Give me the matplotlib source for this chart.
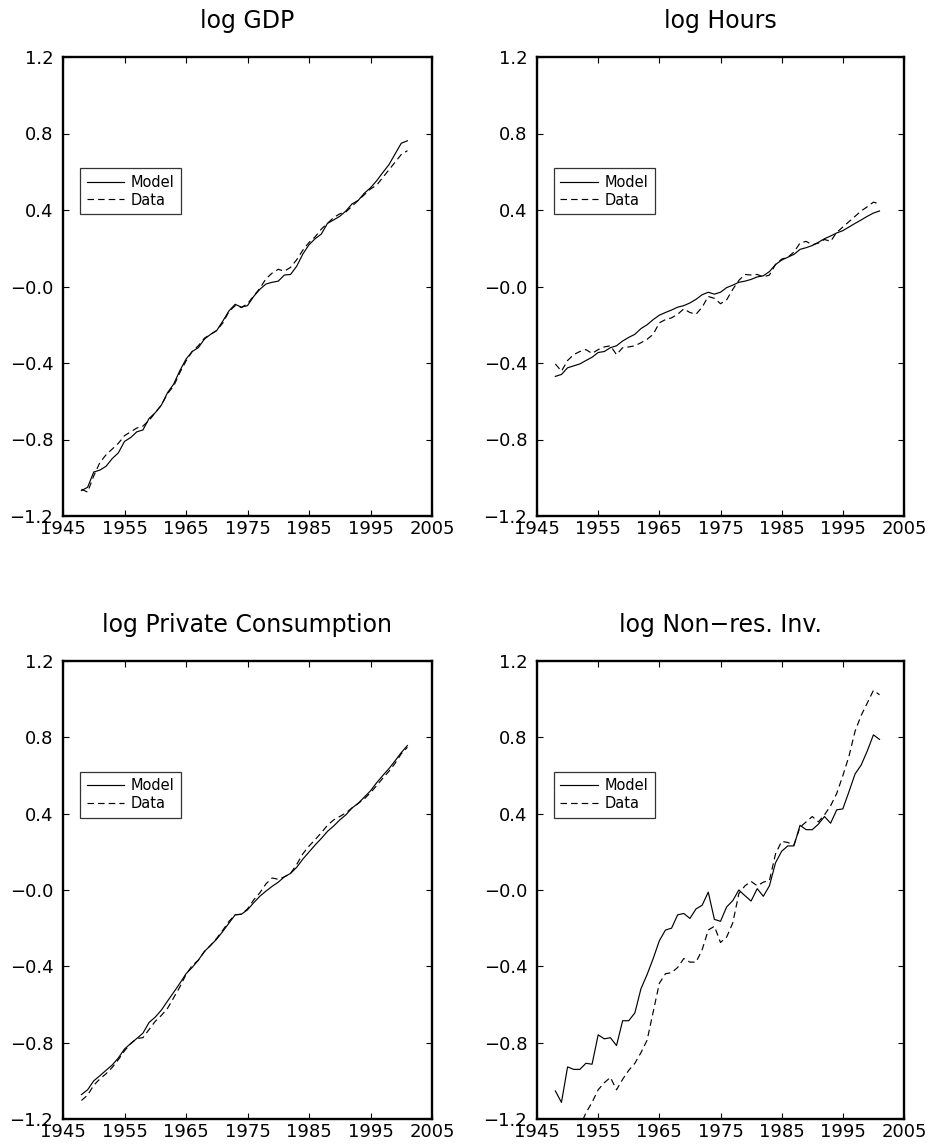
import numpy as np
import matplotlib
matplotlib.use("Agg")
import matplotlib.pyplot as plt

years = np.arange(1948, 2002)

gdp_model = [-1.067, -1.05, -0.97, -0.96, -0.94, -0.90, -0.87, -0.81, -0.79, -0.76,
             -0.75, -0.69, -0.66, -0.62, -0.555, -0.51, -0.44, -0.38, -0.34, -0.32,
             -0.275, -0.25, -0.23, -0.18, -0.127, -0.093, -0.108, -0.10, -0.052, -0.015,
             0.013, 0.022, 0.028, 0.06, 0.063, 0.106, 0.17, 0.218, 0.25, 0.274,
             0.33, 0.348, 0.367, 0.395, 0.432, 0.45, 0.488, 0.516, 0.553, 0.596,
             0.637, 0.693, 0.749, 0.762]
gdp_data = [-1.06, -1.075, -0.99, -0.92, -0.88, -0.85, -0.82, -0.78, -0.76, -0.74,
            -0.73, -0.70, -0.66, -0.62, -0.56, -0.52, -0.45, -0.39, -0.34, -0.31,
            -0.27, -0.25, -0.23, -0.19, -0.13, -0.10, -0.11, -0.09, -0.05, -0.01,
            0.04, 0.07, 0.09, 0.08, 0.10, 0.14, 0.19, 0.23, 0.26, 0.30,
            0.33, 0.36, 0.38, 0.39, 0.42, 0.45, 0.48, 0.51, 0.53, 0.57,
            0.61, 0.65, 0.69, 0.71]

hours_model = [-0.47, -0.46, -0.425, -0.415, -0.405, -0.387, -0.37, -0.345, -0.34, -0.32,
               -0.31, -0.285, -0.266, -0.25, -0.22, -0.2, -0.173, -0.15, -0.136, -0.123,
               -0.108, -0.1, -0.086, -0.067, -0.043, -0.03, -0.04, -0.03, -0.006, 0.007,
               0.022, 0.028, 0.037, 0.05, 0.056, 0.078, 0.115, 0.138, 0.153, 0.168,
               0.194, 0.203, 0.214, 0.231, 0.25, 0.264, 0.28, 0.292, 0.311, 0.33,
               0.348, 0.367, 0.384, 0.395]
hours_data = [-0.405, -0.443, -0.387, -0.356, -0.34, -0.33, -0.35, -0.33, -0.316, -0.31,
              -0.356, -0.32, -0.316, -0.31, -0.294, -0.276, -0.25, -0.19, -0.173, -0.164,
              -0.145, -0.117, -0.136, -0.145, -0.108, -0.052, -0.062, -0.09, -0.07, -0.015,
              0.032, 0.063, 0.06, 0.063, 0.05, 0.06, 0.115, 0.143, 0.153, 0.18,
              0.227, 0.236, 0.218, 0.227, 0.246, 0.236, 0.283, 0.311, 0.339, 0.367,
              0.395, 0.417, 0.441, 0.432]

cons_model = [-1.072, -1.047, -1.0, -0.973, -0.945, -0.917, -0.88, -0.833, -0.805, -0.778,
              -0.75, -0.694, -0.666, -0.629, -0.582, -0.536, -0.489, -0.439, -0.406, -0.368,
              -0.322, -0.29, -0.257, -0.216, -0.173, -0.13, -0.127, -0.104, -0.067, -0.033,
              -0.006, 0.019, 0.041, 0.069, 0.087, 0.119, 0.162, 0.199, 0.236, 0.27,
              0.307, 0.335, 0.367, 0.394, 0.43, 0.454, 0.487, 0.52, 0.562, 0.6,
              0.636, 0.677, 0.72, 0.757]
cons_data = [-1.103, -1.075, -1.023, -0.99, -0.963, -0.93, -0.889, -0.843, -0.805, -0.778,
             -0.774, -0.731, -0.688, -0.657, -0.62, -0.564, -0.508, -0.443, -0.396, -0.368,
             -0.322, -0.29, -0.253, -0.21, -0.164, -0.13, -0.127, -0.099, -0.052, -0.015,
             0.032, 0.063, 0.056, 0.069, 0.087, 0.134, 0.19, 0.23, 0.264, 0.3,
             0.339, 0.367, 0.385, 0.404, 0.43, 0.454, 0.478, 0.51, 0.547, 0.586,
             0.622, 0.664, 0.714, 0.748]

inv_model = [-1.053, -1.113, -0.927, -0.94, -0.94, -0.908, -0.913, -0.759, -0.78, -0.774,
             -0.815, -0.685, -0.685, -0.644, -0.517, -0.443, -0.359, -0.266, -0.21, -0.2,
             -0.13, -0.123, -0.149, -0.099, -0.08, -0.011, -0.154, -0.164, -0.089, -0.056,
             0.0, -0.03, -0.058, 0.007, -0.033, 0.022, 0.143, 0.203, 0.231, 0.231,
             0.339, 0.316, 0.316, 0.345, 0.385, 0.35, 0.42, 0.425, 0.515, 0.608,
             0.655, 0.729, 0.813, 0.789]
inv_data = [-1.45, -1.42, -1.36, -1.30, -1.24, -1.168, -1.113, -1.047, -1.01, -0.982,
            -1.047, -0.992, -0.945, -0.908, -0.852, -0.787, -0.638, -0.489, -0.439, -0.433,
            -0.406, -0.359, -0.378, -0.378, -0.313, -0.21, -0.19, -0.275, -0.247, -0.173,
            -0.019, 0.022, 0.045, 0.022, 0.041, 0.05, 0.19, 0.255, 0.249, 0.236,
            0.329, 0.357, 0.385, 0.357, 0.394, 0.441, 0.506, 0.599, 0.701, 0.832,
            0.915, 0.98, 1.046, 1.023]

titles = ["log GDP", "log Hours", "log Private Consumption", "log Non\u2212res. Inv."]
series = [(gdp_model, gdp_data), (hours_model, hours_data),
          (cons_model, cons_data), (inv_model, inv_data)]

x_ticks = [1945, 1955, 1965, 1975, 1985, 1995, 2005]
y_ticks = [-1.2, -0.8, -0.4, 0.0, 0.4, 0.8, 1.2]
y_labels = ["\u22121.2", "\u22120.8", "\u22120.4", "\u22120.0", "0.4", "0.8", "1.2"]

W, H = 931, 1147
fig = plt.figure(figsize=(W / 100, H / 100), dpi=100)

# axes boxes in pixels: (left, top, right, bottom)
boxes = [(63, 57, 432, 516), (537, 57, 904, 516),
         (63, 661, 432, 1119), (537, 661, 904, 1119)]

for (l, t, r, b), title, (model, data) in zip(boxes, titles, series):
    ax = fig.add_axes([l / W, (H - b) / H, (r - l) / W, (b - t) / H])
    ax.plot(years, model, color="black", lw=0.85, label="Model")
    ax.plot(years, data, color="black", lw=0.85, dashes=(5.5, 3.5), label="Data")
    ax.set_xlim(1945, 2005)
    ax.set_ylim(-1.2, 1.2)
    ax.set_xticks(x_ticks)
    ax.set_yticks(y_ticks)
    ax.set_yticklabels(y_labels)
    ax.tick_params(direction="in", length=4.5, width=0.8, top=True, right=True,
                   labelsize=13, color="black")
    ax.tick_params(axis="y", pad=7)
    ax.tick_params(axis="x", pad=3)
    for sp in ax.spines.values():
        sp.set_linewidth(1.7)
    ax.set_title(title, fontsize=17, pad=21)
    leg = ax.legend(loc="upper left", bbox_to_anchor=(0.046, 0.758), fontsize=10.5,
                    frameon=True, fancybox=False, handlelength=2.6, handletextpad=0.4,
                    borderpad=0.45, labelspacing=0.2, borderaxespad=0)
    leg.get_frame().set_edgecolor("black")
    leg.get_frame().set_linewidth(0.9)

fig.savefig("out.png", dpi=100)
